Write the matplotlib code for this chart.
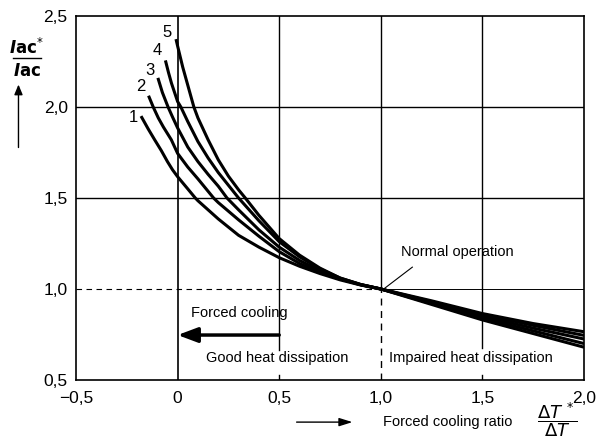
import matplotlib
matplotlib.use("Agg")
import matplotlib.pyplot as plt

plt.rcParams['font.family'] = ['Liberation Sans', 'DejaVu Sans']

# curves (forced cooling ratio -> current ratio)
x1 = [-0.18, -0.145, -0.113, -0.08, -0.05, -0.025, 0.0, 0.05, 0.087, 0.1, 0.2, 0.3, 0.4, 0.5, 0.6, 0.7, 0.8, 0.9, 1.0, 1.25, 1.5, 1.75, 2.0]
y1 = [1.95, 1.88, 1.82, 1.76, 1.70, 1.655, 1.617, 1.55, 1.50, 1.485, 1.385, 1.295, 1.23, 1.172, 1.125, 1.085, 1.05, 1.022, 1.0, 0.935, 0.865, 0.81, 0.765]
x2 = [-0.143, -0.12, -0.095, -0.07, -0.031, 0.0, 0.05, 0.1, 0.177, 0.2, 0.3, 0.4, 0.5, 0.6, 0.7, 0.8, 0.9, 1.0, 1.25, 1.5, 1.75, 2.0]
y2 = [2.062, 2.0, 1.94, 1.89, 1.82, 1.745, 1.67, 1.605, 1.50, 1.475, 1.38, 1.29, 1.205, 1.14, 1.092, 1.055, 1.023, 1.0, 0.93, 0.86, 0.80, 0.745]
x3 = [-0.097, -0.075, -0.047, -0.025, 0.0, 0.05, 0.1, 0.15, 0.2, 0.243, 0.3, 0.4, 0.5, 0.6, 0.7, 0.8, 0.9, 1.0, 1.25, 1.5, 1.75, 2.0]
y3 = [2.16, 2.08, 2.0, 1.945, 1.885, 1.78, 1.70, 1.63, 1.565, 1.50, 1.435, 1.325, 1.23, 1.157, 1.10, 1.057, 1.024, 1.0, 0.925, 0.85, 0.785, 0.725]
x4 = [-0.06, -0.045, -0.03, -0.015, 0.0, 0.016, 0.05, 0.1, 0.15, 0.2, 0.3, 0.4, 0.5, 0.6, 0.7, 0.8, 0.9, 1.0, 1.25, 1.5, 1.75, 2.0]
y4 = [2.256, 2.19, 2.13, 2.08, 2.03, 2.0, 1.92, 1.81, 1.72, 1.64, 1.50, 1.375, 1.26, 1.177, 1.11, 1.06, 1.025, 1.0, 0.92, 0.84, 0.77, 0.70]
x5 = [-0.008, 0.0, 0.025, 0.05, 0.08, 0.1, 0.15, 0.2, 0.25, 0.3, 0.333, 0.4, 0.5, 0.6, 0.7, 0.8, 0.9, 1.0, 1.25, 1.5, 1.75, 2.0]
y5 = [2.373, 2.335, 2.22, 2.12, 2.0, 1.94, 1.82, 1.71, 1.62, 1.545, 1.50, 1.405, 1.277, 1.186, 1.115, 1.06, 1.025, 1.0, 0.915, 0.83, 0.755, 0.68]

curve_labels = ["1", "2", "3", "4", "5"]
label_x = [-0.22, -0.18, -0.135, -0.10, -0.05]
label_y = [1.94, 2.11, 2.20, 2.31, 2.41]

xticks = [-0.5, 0, 0.5, 1.0, 1.5, 2.0]
xtick_labels = ["\u22120,5", "0", "0,5", "1,0", "1,5", "2,0"]
yticks = [0.5, 1.0, 1.5, 2.0, 2.5]
ytick_labels = ["0,5", "1,0", "1,5", "2,0", "2,5"]

fig = plt.figure(figsize=(5.96, 4.42), dpi=100)
ax = fig.add_axes([0.1275, 0.1403, 0.8525, 0.8235])
ax.set_xlim(-0.5, 2.0)
ax.set_ylim(0.5, 2.5)

# grid, drawn piece by piece like the original
ax.axvline(0, color="black", lw=1.2)
ax.plot([0.5, 0.5], [0.665, 2.5], color="black", lw=1.0)
ax.plot([1.0, 1.0], [1.0, 2.5], color="black", lw=1.0)
ax.plot([1.0, 1.0], [0.5, 1.0], color="black", lw=1.0, ls=(0, (5, 4)))
ax.plot([1.5, 1.5], [0.675, 2.5], color="black", lw=1.0)
ax.axhline(2.0, color="black", lw=1.0)
ax.axhline(1.5, color="black", lw=1.0)
ax.plot([-0.5, 1.0], [1.0, 1.0], color="black", lw=0.8, ls=(0, (5, 4)))
ax.plot([1.0, 2.0], [1.0, 1.0], color="black", lw=0.7)

for xs, ys in [(x1, y1), (x2, y2), (x3, y3), (x4, y4), (x5, y5)]:
    ax.plot(xs, ys, color="black", lw=2.2, solid_capstyle="butt", solid_joinstyle="round")

for lab, lx, ly in zip(curve_labels, label_x, label_y):
    ax.text(lx, ly, lab, fontsize=12, ha="center", va="center")

ax.text(0.305, 0.868, "Forced cooling", fontsize=10.5, ha="center", va="center")
ax.annotate("", xy=(0.0, 0.747), xytext=(0.5, 0.747),
            arrowprops=dict(arrowstyle="-|>,head_length=1.2,head_width=0.45",
                            color="black", lw=2.5, shrinkA=0, shrinkB=0))
ax.text(0.49, 0.62, "Good heat dissipation", fontsize=10.5, ha="center", va="center")
ax.text(1.443, 0.62, "Impaired heat dissipation", fontsize=10.5, ha="center", va="center")
ax.text(1.375, 1.203, "Normal operation", fontsize=10.5, ha="center", va="center")
ax.plot([1.02, 1.155], [1.005, 1.12], color="black", lw=0.8)

ax.set_xticks(xticks)
ax.set_xticklabels(xtick_labels)
ax.set_yticks(yticks)
ax.set_yticklabels(ytick_labels)
ax.tick_params(axis="both", length=0, labelsize=12.5)
ax.tick_params(axis="x", pad=8)
ax.tick_params(axis="y", pad=6)
for t in [0.5, 1.5]:
    ax.plot([t, t], [0.5, 0.53], color="black", lw=1.0)
for sp in ax.spines.values():
    sp.set_linewidth(1.2)

# axis titles
fig.text(0.045, 0.893, r"$\mathbfit{I}\mathbf{ac}^{*}$", fontsize=12, ha="center", va="center")
fig.add_artist(plt.Line2D([0.022, 0.068], [0.868, 0.868], color="black", lw=1.0))
fig.text(0.045, 0.841, r"$\mathbfit{I}\mathbf{ac}$", fontsize=12, ha="center", va="center")
fig.add_artist(matplotlib.patches.FancyArrowPatch((0.031, 0.66), (0.031, 0.815),
               transform=fig.transFigure, arrowstyle="-|>,head_length=6,head_width=2.5",
               color="black", lw=1.0))

fig.add_artist(matplotlib.patches.FancyArrowPatch((0.493, 0.045), (0.596, 0.045),
               transform=fig.transFigure, arrowstyle="-|>,head_length=8,head_width=2.5",
               color="black", lw=1.0))
fig.text(0.642, 0.045, "Forced cooling ratio", fontsize=10.5, ha="left", va="center")
fig.text(0.935, 0.05, r"$\dfrac{\Delta \mathit{T}^{\,*}}{\Delta \mathit{T}}$", fontsize=13,
         ha="center", va="center")

fig.savefig("out.png", dpi=100)
